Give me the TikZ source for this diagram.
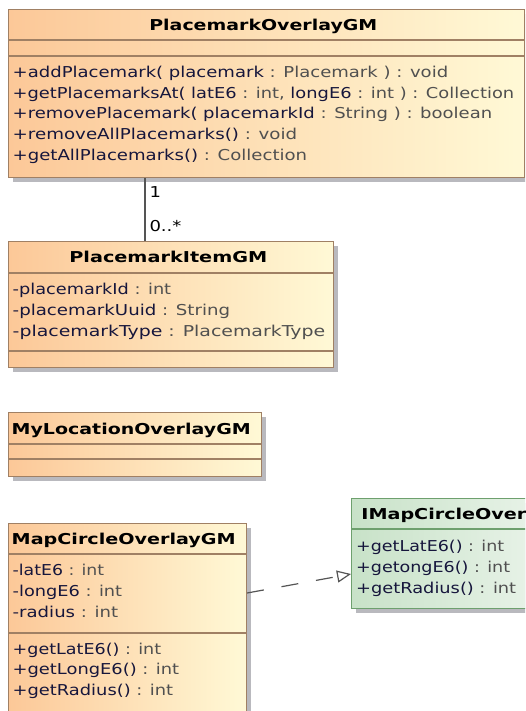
\documentclass[tikz,border=0pt]{standalone}
\usepackage{fontspec}
\usepackage{graphicx}
\setmainfont{DejaVu Sans}[FakeStretch=1.2]
\usetikzlibrary{arrows.meta,shadows}

\definecolor{umlorange}{RGB}{252,200,152}
\definecolor{umlyellow}{RGB}{255,249,214}
\definecolor{umlborder}{RGB}{160,128,100}
\definecolor{umlgreenA}{RGB}{200,226,200}
\definecolor{umlgreenB}{RGB}{238,246,238}
\definecolor{umlgreenline}{RGB}{110,160,110}
\definecolor{umlshadow}{RGB}{185,185,190}
\definecolor{namecol}{RGB}{22,22,60}
\definecolor{typecol}{RGB}{80,80,80}
\definecolor{linkcol}{RGB}{85,85,85}

\newcommand{\namepart}[1]{\textcolor{namecol}{#1}}
\newcommand{\typepart}[1]{\textcolor{typecol}{#1}}
% set a line of text to a given width, keeping its height
\newcommand{\fitw}[2]{\resizebox{#1pt}{\height}{#2}}
\newcommand{\umlsize}{\fontsize{15}{19}\selectfont}
\newlength{\ifacew}

\begin{document}
\settowidth{\ifacew}{\umlsize\bfseries IMapCircleOver}
\pgfmathsetmacro{\ifacescale}{165/\ifacew}
\begin{tikzpicture}[x=1pt,y=-1pt,
  umltext/.style={inner sep=0pt, anchor=base west, font=\umlsize},
  umltitle/.style={inner sep=0pt, anchor=base, font=\umlsize\bfseries},
  classbox/.style={draw=umlborder, line width=1.1pt, left color=umlorange, right color=umlyellow,
    inner sep=0pt, anchor=north west,
    general shadow={fill=umlshadow, shadow xshift=4pt, shadow yshift=-4pt}},
  ifacebox/.style={classbox, draw=umlgreenline, left color=umlgreenA, right color=umlgreenB},
  sepline/.style={draw=umlborder, line width=1.1pt},
  ifsepline/.style={draw=umlgreenline, line width=1.1pt},
  assoc/.style={draw=linkcol, line width=1.2pt},
  realize/.style={draw=linkcol, line width=1.2pt, dash pattern=on 17pt off 18pt,
    -{Triangle[open, length=14pt, width=12pt]}},
]
\clip (0,0) rectangle (525,711);
\fill[white] (0,0) rectangle (525,711);

% ---- PlacemarkOverlayGM ----
\node[classbox, minimum width=516pt, minimum height=168pt] (overlay) at (8,9) {};
\draw[sepline] (overlay.west |- 0,40) -- (overlay.east |- 0,40);
\draw[sepline] (overlay.west |- 0,56) -- (overlay.east |- 0,56);
\node[umltitle] (overlaytitle) at (263.3,30.2) {\fitw{228}{PlacemarkOverlayGM}};
\node[umltext] (op1) at (12.5,77.3) {\fitw{435.5}{\namepart{+addPlacemark( placemark} \typepart{: Placemark ) : void}}};
\node[umltext] (op2) at (12.5,98.2) {\fitw{501.5}{\namepart{+getPlacemarksAt( latE6} \typepart{: int,} \namepart{longE6} \typepart{: int ) : Collection}}};
\node[umltext] (op3) at (12.5,119) {\fitw{479.5}{\namepart{+removePlacemark( placemarkId} \typepart{: String ) : boolean}}};
\node[umltext] (op4) at (12.5,139.9) {\fitw{284.5}{\namepart{+removeAllPlacemarks()} \typepart{: void}}};
\node[umltext] (op5) at (12.5,160.7) {\fitw{294.5}{\namepart{+getAllPlacemarks()} \typepart{: Collection}}};

% ---- PlacemarkItemGM ----
\node[classbox, minimum width=325pt, minimum height=126pt] (item) at (8,241) {};
\draw[sepline] (item.west |- 0,273) -- (item.east |- 0,273);
\draw[sepline] (item.west |- 0,351) -- (item.east |- 0,351);
\node[umltitle] (itemtitle) at (168.3,262.7) {\fitw{198}{PlacemarkItemGM}};
\node[umltext] (at1) at (12.5,294) {\fitw{158.5}{\namepart{-placemarkId} \typepart{: int}}};
\node[umltext] (at2) at (12.5,315) {\fitw{217.5}{\namepart{-placemarkUuid} \typepart{: String}}};
\node[umltext] (at3) at (12.5,336) {\fitw{312.5}{\namepart{-placemarkType} \typepart{: PlacemarkType}}};

% association between the two placemark classes
\coordinate (assoctop) at (145,177);
\draw[assoc] (overlay.south -| assoctop) -- (item.north -| assoctop);
\node[umltext] (mult1) at (149.3,198) {\textcolor{black}{1}};
\node[umltext] (mult2) at (149.3,231) {\fitw{32}{\textcolor{black}{0..*}}};

% ---- MyLocationOverlayGM ----
\node[classbox, minimum width=253pt, minimum height=64pt] (myloc) at (8,412) {};
\draw[sepline] (myloc.west |- 0,444) -- (myloc.east |- 0,444);
\draw[sepline] (myloc.west |- 0,459) -- (myloc.east |- 0,459);
\node[umltitle] (myloctitle) at (131.2,434.3) {\fitw{239}{MyLocationOverlayGM}};

% ---- MapCircleOverlayGM ----
\node[classbox, minimum width=238pt, minimum height=210pt] (circle) at (8,523) {};
\draw[sepline] (circle.west |- 0,554) -- (circle.east |- 0,554);
\draw[sepline] (circle.west |- 0,633) -- (circle.east |- 0,633);
\node[umltitle] (circletitle) at (123.7,544.3) {\fitw{224}{MapCircleOverlayGM}};
\node[umltext] (ca1) at (12.5,575.7) {\fitw{91.5}{\namepart{-latE6} \typepart{: int}}};
\node[umltext] (ca2) at (12.5,596.3) {\fitw{109.5}{\namepart{-longE6} \typepart{: int}}};
\node[umltext] (ca3) at (12.5,617) {\fitw{105.5}{\namepart{-radius} \typepart{: int}}};
\node[umltext] (co1) at (12.5,654) {\fitw{148.5}{\namepart{+getLatE6()} \typepart{: int}}};
\node[umltext] (co2) at (12.5,674.7) {\fitw{166.5}{\namepart{+getLongE6()} \typepart{: int}}};
\node[umltext] (co3) at (12.5,695.3) {\fitw{160.5}{\namepart{+getRadius()} \typepart{: int}}};

% ---- IMapCircleOverlay (interface) ----
\node[ifacebox, minimum width=220pt, minimum height=110pt] (iface) at (351,498) {};
\draw[ifsepline] (iface.west |- 0,529) -- (iface.east |- 0,529);
\node[umltitle, anchor=base west] (ifacetitle) at (361.2,519.3) {\scalebox{\ifacescale}[1]{IMapCircleOverlay}};
\node[umltext] (io1) at (356,551) {\fitw{148}{\namepart{+getLatE6()} \typepart{: int}}};
\node[umltext] (io2) at (356,572) {\fitw{154}{\namepart{+getongE6()} \typepart{: int}}};
\node[umltext] (io3) at (356,593) {\fitw{160}{\namepart{+getRadius()} \typepart{: int}}};

% realization of the interface
\draw[realize] ([yshift=-70pt]circle.north east) -- ([yshift=-76pt]iface.north west);
\end{tikzpicture}
\end{document}
